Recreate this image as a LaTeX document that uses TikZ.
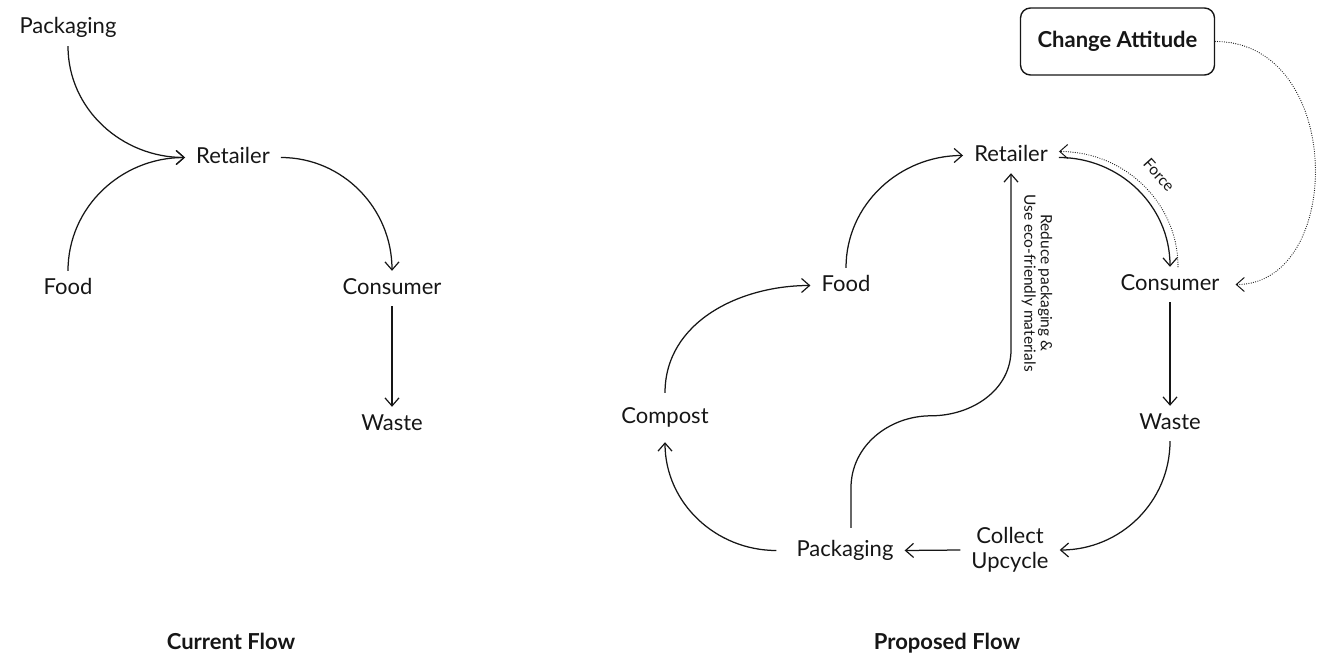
\documentclass[tikz,border=0pt]{standalone}
\usepackage{fontspec}
\setmainfont{Lato}
\usetikzlibrary{arrows.meta,calc}
\definecolor{ink}{HTML}{161616}
\begin{document}
\begin{tikzpicture}[x=1pt,y=-1pt,
  lbl/.style={font=\fontsize{22}{26}\selectfont, text=ink, inner xsep=11pt, inner ysep=8pt, text height=15pt, text depth=4pt},
  lbltwo/.style={font=\fontsize{22}{25}\selectfont, text=ink, inner xsep=11pt, inner ysep=4pt, align=center},
  small/.style={font=\fontsize{15.5}{16.5}\selectfont, text=ink, inner sep=0pt},
  ttl/.style={font=\fontsize{22}{26}\selectfont\bfseries, text=ink, inner sep=0pt},
  arr/.style={draw=ink, line width=1.25pt, -{Straight Barb[length=8pt,width=14pt,line width=1.2pt]}},
  dotarr/.style={draw=ink, line width=1.2pt, line cap=round, dash pattern=on 0pt off 2.3pt, -{Straight Barb[length=8pt,width=14pt,line width=1pt,line cap=butt]}},
]
\useasboundingbox (0,0) rectangle (1319,658);

% ---------- Current flow ----------
\node[lbl] (pkgL) at (68,28.5) {Packaging};
\node[lbl] (retL) at (233,157.5) {Retailer};
\node[lbl] (foodL) at (68,288.5) {Food};
\node[lbl] (conL) at (392,288.5) {Consumer};
\node[lbl] (wasL) at (392,424.5) {Waste};
\node[ttl, anchor=base] (curT) at (231,649) {Current Flow};

\draw[arr] (pkgL.south) to[out=-90,in=180] (retL.west);
\draw[arr] (foodL.north) to[out=90,in=180] (retL.west);
\draw[arr] (retL.east) to[out=0,in=90] (conL.north);
\draw[arr] (conL.south) -- (wasL.north);

% ---------- Proposed flow ----------
\node[draw=ink, line width=1.4pt, rounded corners=10pt, minimum width=194pt, minimum height=67pt,
      font=\fontsize{22}{26}\selectfont\bfseries, text=ink] (ca) at (1117.5,41.5) {Change Attitude};
\node[lbl] (retR) at (1011,155.5) {Retailer};
\node[lbl] (foodR) at (846,285.5) {Food};
\node[lbl] (conR) at (1170,284.5) {Consumer};
\node[lbl] (wasR) at (1170,423.5) {Waste};
\node[lbl, inner ysep=15pt] (comp) at (665,417.5) {Compost};
\node[lbl] (pkgR) at (845,550.5) {Packaging};
\node[lbltwo] (coll) at (1010,550) {Collect\\Upcycle};
\node[ttl, anchor=base] (proT) at (947,649) {Proposed Flow};
\node[small, rotate=-90, align=center] (redL) at (1037,283) {Reduce packaging \&\\Use eco-friendly materials};
\node[small, rotate=-48] (forceL) at (1159,175) {Force};

\draw[arr] (foodR.north) to[out=90,in=180] (retR.west);
\draw[arr] ([yshift=-2pt]retR.east) to[out=0,in=90] (conR.north);
\draw[arr] (conR.south) -- (wasR.north);
\draw[arr] (wasR.south) to[out=-90,in=0] (coll.east);
\draw[arr] (coll.west) -- (pkgR.east);
\draw[arr] ([xshift=-9pt]pkgR.west) to[out=180,in=-90] (comp.south);
\draw[arr] (comp.north) to[out=90,in=180] (foodR.west);
\draw[arr] ([xshift=6pt,yshift=5pt]pkgR.north) -- ++(0,-40) to[out=90,in=180] ++(80,-72)
      to[out=0,in=-90] ++(80,-66) -- (retR.south);
\draw[dotarr] ([xshift=8pt]conR.north) to[out=90,in=0] ([yshift=4pt]retR.east);
\draw[dotarr] (ca.east) .. controls (1345,41.5) and (1345,284.5) .. ([xshift=5pt]conR.east);
\end{tikzpicture}
\end{document}
